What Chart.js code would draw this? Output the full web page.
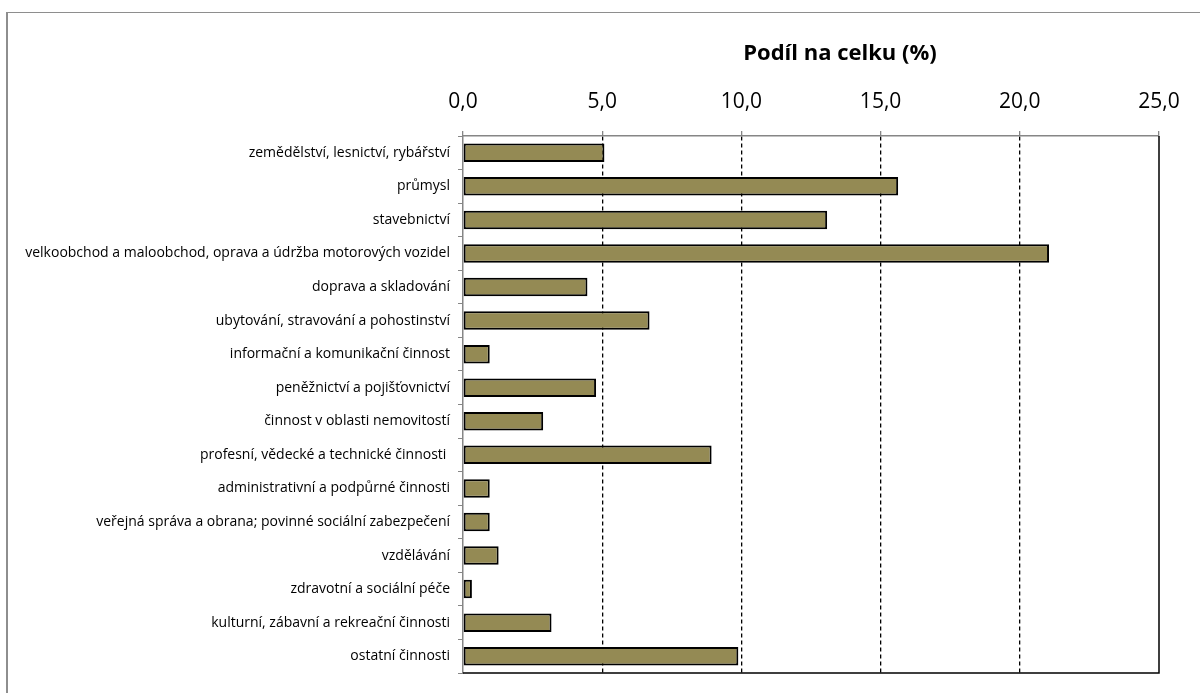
<!DOCTYPE html>
<html lang="cs">
<head>
  <meta charset="UTF-8">
  <title>Podíl na celku (%)</title>
  <script src="https://cdn.jsdelivr.net/npm/chart.js"></script>
  <style>
    body {
      margin: 0;
      background: #ffffff;
      overflow: hidden;
      font-family: "Open Sans", sans-serif;
    }
    .frame {
      position: absolute;
      left: 6px;
      top: 12px;
      width: 1300px;
      height: 800px;
      border-left: 2px solid #8e8e8e;
      border-top: 1px solid #8e8e8e;
    }
    .chart-box {
      position: absolute;
      left: 0;
      top: 0;
      width: 1200px;
      height: 693px;
    }
  </style>
</head>
<body>
  <div class="frame"></div>
  <div class="chart-box">
    <canvas id="shareChart"></canvas>
  </div>

  <script>
    // categories (CZ-NACE sections)
    const categories = [
      'zemědělství, lesnictví, rybářství',
      'průmysl',
      'stavebnictví',
      'velkoobchod a maloobchod, oprava a údržba motorových vozidel',
      'doprava a skladování',
      'ubytování, stravování a pohostinství',
      'informační a komunikační činnost',
      'peněžnictví a pojišťovnictví',
      'činnost v oblasti nemovitostí',
      'profesní, vědecké a technické činnosti ',
      'administrativní a podpůrné činnosti',
      'veřejná správa a obrana; povinné sociální zabezpečení',
      'vzdělávání',
      'zdravotní a sociální péče',
      'kulturní, zábavní a rekreační činnosti',
      'ostatní činnosti'
    ];

    // share of total, %
    const shares = [5.08, 15.63, 13.08, 21.05, 4.47, 6.70, 0.96, 4.78,
                    2.88, 8.93, 0.96, 0.96, 1.28, 0.32, 3.18, 9.89];

    const axisTitle = 'Podíl na celku (%)';
    const axisMin = 0;
    const axisMax = 25;
    const axisStep = 5;

    // title above the value axis + black right/bottom frame of the plot
    const framePlugin = {
      id: 'framePlugin',
      afterDatasetsDraw(chart) {
        const { ctx, chartArea } = chart;
        ctx.save();
        ctx.strokeStyle = '#000';
        ctx.lineWidth = 1.5;
        ctx.beginPath();
        ctx.moveTo(chartArea.right, chartArea.top);
        ctx.lineTo(chartArea.right, chartArea.bottom);
        ctx.lineTo(chartArea.left, chartArea.bottom);
        ctx.stroke();
        ctx.restore();
      },
      afterDraw(chart) {
        const { ctx } = chart;
        ctx.save();
        ctx.font = 'bold 22px "Open Sans"';
        ctx.fillStyle = '#000';
        ctx.textAlign = 'center';
        ctx.textBaseline = 'middle';
        ctx.fillText(axisTitle, 840, 54);
        ctx.restore();
      }
    };

    const ctx = document.getElementById('shareChart').getContext('2d');
    const chart = new Chart(ctx, {
      type: 'bar',
      data: {
        labels: categories,
        datasets: [{
          label: axisTitle,
          data: shares,
          backgroundColor: '#948A54',
          borderColor: '#000000',
          borderWidth: 2,
          borderSkipped: false,
          barPercentage: 0.55,
          categoryPercentage: 1.0
        }]
      },
      options: {
        indexAxis: 'y',
        responsive: true,
        maintainAspectRatio: false,
        animation: false,
        layout: {
          padding: { left: 0, top: 0, right: 41, bottom: 20 }
        },
        plugins: {
          legend: { display: false },
          tooltip: { enabled: false }
        },
        scales: {
          x: {
            position: 'top',
            min: axisMin,
            max: axisMax,
            afterFit(scale) { scale.height = 136; },
            ticks: {
              stepSize: axisStep,
              padding: 16,
              color: '#000',
              font: { family: 'Open Sans', size: 21 },
              callback: v => v.toFixed(1).replace('.', ',')
            },
            grid: {
              color: c => (c.tick && c.tick.value > axisMin && c.tick.value < axisMax) ? '#000' : 'rgba(0,0,0,0)',
              lineWidth: 1.3,
              tickColor: '#868686',
              tickLength: 5,
              tickBorderDash: []
            },
            border: {
              display: true,
              color: '#868686',
              width: 1.5,
              dash: [4, 3]
            }
          },
          y: {
            afterFit(scale) { scale.width = 463; },
            ticks: {
              padding: 8,
              color: '#000',
              autoSkip: false,
              font: { family: 'Open Sans', size: 14 }
            },
            grid: {
              offset: true,
              drawOnChartArea: false,
              tickColor: '#868686',
              tickLength: 5
            },
            border: {
              display: true,
              color: '#868686',
              width: 1.5
            }
          }
        }
      },
      plugins: [framePlugin]
    });
  </script>
</body>
</html>
